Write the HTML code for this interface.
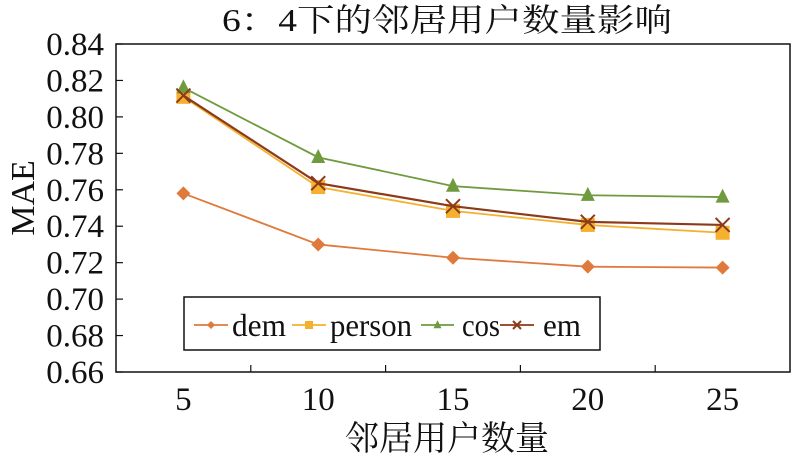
<!DOCTYPE html>
<html><head><meta charset="utf-8"><style>
body{margin:0;background:#fff;}
svg text{font-family:"Liberation Serif","Noto Serif CJK SC",serif;fill:#111;}
</style></head><body>
<svg width="791" height="458" viewBox="0 0 791 458">
<text x="222" y="31" font-size="32" textLength="450" lengthAdjust="spacingAndGlyphs">6：4下的邻居用户数量影响</text>
<g id="axes"></g>
<g id="series"></g>
<text transform="translate(34,198) rotate(-90)" font-size="34" text-anchor="middle">MAE</text>
<text x="447" y="450" font-size="34" text-anchor="middle">邻居用户数量</text>
<g>
<rect x="184" y="297" width="416" height="53" fill="#fff" stroke="#111" stroke-width="1.5"/>
<g id="legend"></g>
</g>
</svg>
<script>
const categories=["5","10","15","20","25"];
const yTicks=[0.66,0.68,0.70,0.72,0.74,0.76,0.78,0.80,0.82,0.84];
const dem=[0.758,0.730,0.7227,0.7178,0.7173];
const person=[0.811,0.7615,0.7484,0.7407,0.7364];
const cos=[0.816,0.7778,0.762,0.757,0.756];
const em=[0.8117,0.7636,0.751,0.7424,0.7407];
const seriesNames=["dem","person","cos","em"];
const NS="http://www.w3.org/2000/svg";
const L=116,R=790,T=44,B=372,ymin=0.66,ymax=0.84;
const step=(R-L)/categories.length;
const xs=i=>L+step*(i+0.5);
const ys=v=>B-(v-ymin)/(ymax-ymin)*(B-T);
function mk(t,a,p){const e=document.createElementNS(NS,t);for(const k in a)e.setAttribute(k,a[k]);p.appendChild(e);return e;}
const ax=document.getElementById('axes');
const frame=mk('rect',{x:L,y:T,width:R-L,height:B-T,fill:'none',stroke:'#111','stroke-width':1.5},ax);


yTicks.forEach(v=>{
 const y=ys(v);
 const tk=mk('line',{x1:L,x2:L+7,y1:y,y2:y,stroke:'#111','stroke-width':1.2},ax);
 
 
 const t=mk('text',{x:L-12,y:y+11,'font-size':33,'text-anchor':'end'},ax);
 t.textContent=v.toFixed(2);
 
 
});
categories.forEach((c,i)=>{
 if(i>0){const x=L+step*i;
  const tk=mk('line',{x1:x,x2:x,y1:B,y2:B-7,stroke:'#111','stroke-width':1.2},ax);
  
  }
 const t=mk('text',{x:xs(i),y:B+38,'font-size':33,'text-anchor':'middle'},ax);
 t.textContent=c;
 
 
});
const colors={dem:'#e07a3c',person:'#f5b030',cos:'#6f9a3e',em:'#8b3a1a'};
function marker(type,x,y,g,s){
 const c=colors[type];let e;
 if(type==='dem')e=mk('polygon',{points:`${x},${y-s} ${x+s},${y} ${x},${y+s} ${x-s},${y}`,fill:c},g);
 else if(type==='person')e=mk('rect',{x:x-s,y:y-s,width:2*s,height:2*s,fill:c},g);
 else if(type==='cos')e=mk('polygon',{points:`${x},${y-s*1.2} ${x+s},${y+s*0.8} ${x-s},${y+s*0.8}`,fill:c},g);
 else e=mk('path',{d:`M${x-s} ${y-s}L${x+s} ${y+s}M${x-s} ${y+s}L${x+s} ${y-s}`,stroke:c,'stroke-width':2,fill:'none'},g);
 return e;
}
const sg=document.getElementById('series');
const data={dem,person,cos,em};
seriesNames.forEach(n=>{
 const g=mk('g',{},sg);
 
 
 const pl=mk('polyline',{points:data[n].map((v,i)=>xs(i)+','+ys(v)).join(' '),fill:'none',stroke:colors[n],'stroke-width':n==='em'?2.2:1.8},g);
 
 
 data[n].forEach((v,i)=>{
  const m=marker(n,xs(i),ys(v),g,7);
  
  
 });
});
const lg=document.getElementById('legend');
const lx=[194,292,421,500],lw=[34,34,33,34],tx=[232,330,462,543],tl=[54,82,38,38];
seriesNames.forEach((n,i)=>{
 const g=mk('g',{},lg);
 
 
 mk('line',{x1:lx[i],x2:lx[i]+lw[i],y1:325,y2:325,stroke:colors[n],'stroke-width':1.8},g);
 marker(n,lx[i]+lw[i]/2,325,g,4);
 const t=mk('text',{x:tx[i],y:336,'font-size':32,textLength:tl[i],lengthAdjust:'spacingAndGlyphs'},g);
 t.textContent=n;
});
</script>
</body></html>
